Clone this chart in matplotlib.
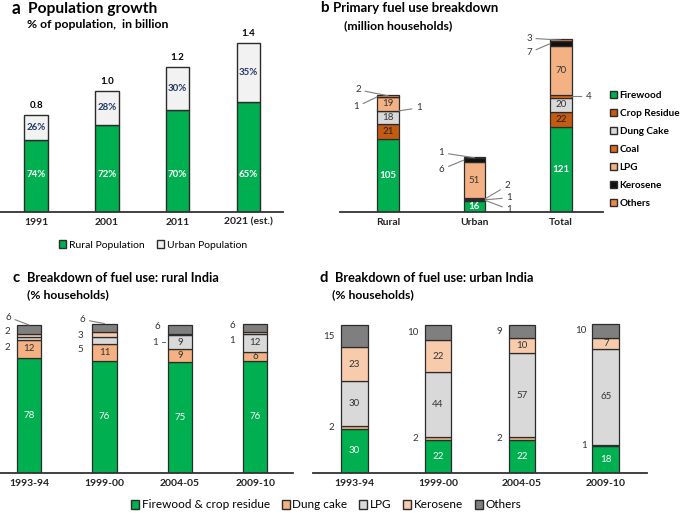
import matplotlib
matplotlib.use("Agg")
import matplotlib.pyplot as plt
import numpy as np
from matplotlib.patches import Patch

plt.rcParams['font.family'] = ['Lato', 'DejaVu Sans']

# ---- data ----
# a: population
years_a = ['1991', '2001', '2011', '2021 (est.)']
pop_total = [0.8, 1.0, 1.2, 1.4]
pop_rural_pct = [74, 72, 70, 65]
pop_urban_pct = [26, 28, 30, 35]

# b: primary fuel (million households)
groups_b = ['Rural', 'Urban', 'Total']
fuels_b = ['Firewood', 'Crop Residue', 'Dung Cake', 'Coal', 'LPG', 'Kerosene', 'Others']
firewood_b = [105, 16, 121]
crop_b = [21, 1, 22]
dung_b = [18, 1, 20]
coal_b = [1, 2, 4]
lpg_b = [19, 51, 70]
kero_b = [1, 6, 7]
others_b = [2, 1, 3]

# c / d: % households
years_cd = ['1993-94', '1999-00', '2004-05', '2009-10']
fuels_cd = ['Firewood & crop residue', 'Dung cake', 'LPG', 'Kerosene', 'Others']
rural_fire = [78, 76, 75, 76]
rural_dung = [12, 11, 9, 6]
rural_lpg = [2, 5, 9, 12]
rural_kero = [2, 3, 1, 1]
rural_oth = [6, 6, 6, 6]
urban_fire = [30, 22, 22, 18]
urban_dung = [2, 2, 2, 1]
urban_lpg = [30, 44, 57, 65]
urban_kero = [23, 22, 10, 7]
urban_oth = [15, 10, 9, 10]

W, H = 685, 513
fig = plt.figure(figsize=(W / 100, H / 100), dpi=100)

EDGE = '#2b2b2b'
GREEN = '#00B050'
cols_b = [GREEN, '#C55A11', '#D9D9D9', '#E2691A', '#F4B183', '#111111', '#F0884A']
cols_cd = [GREEN, '#F4B183', '#D9D9D9', '#F8CBAD', '#7F7F7F']


def px_axes(x0, x1, y_base, y_top):
    return fig.add_axes([x0 / W, 1 - y_base / H, (x1 - x0) / W, (y_base - y_top) / H])


def style(ax, labels):
    for s in ['top', 'right', 'left']:
        ax.spines[s].set_visible(False)
    ax.spines['bottom'].set_color('#333333')
    ax.spines['bottom'].set_linewidth(1.3)
    ax.set_yticks([])
    ax.set_xticks(range(len(labels)))
    ax.set_xticklabels(labels, fontsize=7.5, fontweight='bold', color='#222222')
    ax.tick_params(axis='x', length=0, pad=4)
    ax.patch.set_alpha(0)


def title(x_letter, x_text, y, letter, text, sub, x_sub, y_sub, size=9.5, sub_size=8.8):
    fig.text(x_letter / W, 1 - y / H, letter, fontsize=size + 1.5, fontweight='bold', va='center')
    fig.text(x_text / W, 1 - y / H, text, fontsize=size, fontweight='bold', va='center')
    fig.text(x_sub / W, 1 - y_sub / H, sub, fontsize=sub_size, fontweight='bold', va='center')


# ---------------- panel a ----------------
ax = px_axes(0, 283, 212, 212 - 1.5 * 121)
x = np.arange(len(years_a))
tot = np.array(pop_total)
rur = tot * np.array(pop_rural_pct) / 100
urb = tot - rur
wa = 0.33
ax.bar(x, rur, wa, color=GREEN, edgecolor=EDGE, linewidth=1)
ax.bar(x, urb, wa, bottom=rur, color='#F2F2F2', edgecolor=EDGE, linewidth=1)
ax.set_xlim(-0.51, 3.49)
ax.set_ylim(0, 1.5)
style(ax, years_a)
for i in range(len(x)):
    ax.text(x[i], 0.31, f'{pop_rural_pct[i]}%', ha='center', va='center',
            color='white', fontsize=7, fontweight='bold')
    ax.text(x[i], rur[i] + urb[i] / 2, f'{pop_urban_pct[i]}%', ha='center', va='center',
            color='#1F3864', fontsize=7, fontweight='bold')
    ax.annotate(f'{pop_total[i]:.1f}', (x[i], tot[i]), xytext=(0, 5), textcoords='offset pixels',
                ha='center', va='bottom', fontsize=7, fontweight='bold')
fig.legend(handles=[Patch(facecolor=GREEN, edgecolor=EDGE, label='Rural Population'),
                    Patch(facecolor='#F2F2F2', edgecolor=EDGE, label='Urban Population')],
           loc='center', bbox_to_anchor=(153 / W, 1 - 245 / H), ncol=2, frameon=False,
           fontsize=7.5, handlelength=0.7, handleheight=0.7, handletextpad=0.25,
           columnspacing=1.2)
title(12, 28, 9, 'a', 'Population growth', '% of population,  in billion', 27, 25, size=11.2)

# ---------------- panel b ----------------
ax = px_axes(340, 603, 212, 212 - 260 * 0.70)
xb = np.arange(len(groups_b))
wb = 0.25
series_b = [firewood_b, crop_b, dung_b, coal_b, lpg_b, kero_b, others_b]
bottom = np.zeros(len(xb))
bottoms_b = []
for vals, c, name in zip(series_b, cols_b, fuels_b):
    ax.bar(xb, vals, wb, bottom=bottom, color=c, edgecolor=EDGE, linewidth=0.9, label=name)
    bottoms_b.append(bottom.copy())
    bottom = bottom + np.array(vals)
ax.set_xlim(-0.555, 2.486)
ax.set_ylim(0, 260)
style(ax, groups_b)

# inside labels: (series index, text colour)
for si, tc in [(0, 'white'), (1, '#222222'), (2, '#333333'), (4, '#333333')]:
    for i in range(len(xb)):
        v = series_b[si][i]
        if v >= 10:
            ax.text(xb[i], bottoms_b[si][i] + v / 2, str(v), ha='center', va='center',
                    fontsize=7, color=tc, fontweight='bold' if si == 0 else 'normal')

# small-value callouts: (group, series, side, dx, dy) side -1 left edge, 0 centre, 1 right edge
callouts_b = [(0, 6, 0, -30, 6), (0, 5, -1, -21, -10), (0, 3, 1, 20, 3),
              (1, 6, 0, -33, 5), (1, 5, -1, -22, -9), (1, 3, 1, 22, 13),
              (1, 2, 1, 24, 2), (1, 1, 1, 24, -9),
              (2, 6, 0, -32, 2), (2, 5, -1, -21, -9), (2, 3, 1, 17, 0)]
for g, si, side, dx, dy in callouts_b:
    v = series_b[si][g]
    ax.annotate(str(v), (xb[g] + side * wb / 2, bottoms_b[si][g] + v / 2),
                xytext=(dx, dy), textcoords='offset pixels', ha='center', va='center',
                fontsize=7, color='#333333',
                arrowprops=dict(arrowstyle='-', color='#7f7f7f', lw=0.8, shrinkA=1, shrinkB=0))
handles_b = [Patch(facecolor=c, edgecolor=EDGE, label=n) for c, n in zip(cols_b, fuels_b)]
fig.legend(handles=handles_b, loc='upper left', bbox_to_anchor=(606 / W, 1 - 87 / H),
           frameon=False, handlelength=0.7, handleheight=0.7, borderaxespad=0,
           handletextpad=0.25, labelspacing=0.9, prop={'weight': 'bold', 'size': 7.2})
title(320, 333, 8, 'b', 'Primary fuel use breakdown', '(million households)', 344, 26)

# ---------------- panels c & d ----------------
def stacked_pct(ax, series, w):
    xs = np.arange(len(years_cd))
    bottom = np.zeros(len(xs))
    bots = []
    for vals, c, name in zip(series, cols_cd, fuels_cd):
        ax.bar(xs, vals, w, bottom=bottom, color=c, edgecolor=EDGE, linewidth=0.9, label=name)
        bots.append(bottom.copy())
        bottom = bottom + np.array(vals)
    return xs, bots


# c
ax = px_axes(0, 293, 473, 473 - 105 * 1.48)
series_c = [rural_fire, rural_dung, rural_lpg, rural_kero, rural_oth]
wc = 0.32
xc, bots_c = stacked_pct(ax, series_c, wc)
ax.set_xlim(-0.385, 3.5)
ax.set_ylim(0, 105)
style(ax, years_cd)
for i in range(len(xc)):
    v = series_c[0][i]
    ax.text(xc[i], v / 2, str(v), ha='center', va='center', fontsize=7, color='white')
    for si in (1, 2):
        v = series_c[si][i]
        if v >= 6:
            ax.text(xc[i], bots_c[si][i] + v / 2, str(v), ha='center', va='center',
                    fontsize=7, color='#333333')
# (year, series, dx, dy, leader)
callouts_c = [(0, 4, -21, 8, True), (0, 3, -10, 4, False), (0, 2, -10, -9, False),
              (1, 4, -22, 4, True), (1, 3, -12, -1, False), (1, 2, -12, -9, False),
              (2, 4, -10, 3, False), (3, 4, -11, 2, False), (3, 3, -11, -7, False)]
for g, si, dx, dy, leader in callouts_c:
    v = series_c[si][g]
    if leader:
        xy = (xc[g], bots_c[si][g] + v)
        ax.annotate(str(v), xy, xytext=(dx, dy), textcoords='offset pixels', ha='center',
                    va='center', fontsize=7, color='#333333',
                    arrowprops=dict(arrowstyle='-', color='#7f7f7f', lw=0.8, shrinkA=1, shrinkB=0))
    else:
        ax.annotate(str(v), (xc[g] - wc / 2, bots_c[si][g] + v / 2), xytext=(dx, dy),
                    textcoords='offset pixels', ha='center', va='center', fontsize=7,
                    color='#333333')
# 2004-05 kerosene with short dash
ax.annotate(f'{series_c[3][2]} \u2013', (xc[2] - wc / 2, bots_c[3][2] + series_c[3][2] / 2),
            xytext=(-1, -8), textcoords='offset pixels', ha='right', va='center',
            fontsize=7, color='#333333')
title(12, 27, 278, 'c', 'Breakdown of fuel use: rural India', '(% households)', 27, 295, size=9.2)

# d
ax = px_axes(313, 647, 473, 473 - 105 * 1.48)
series_d = [urban_fire, urban_dung, urban_lpg, urban_kero, urban_oth]
wd = 0.32
xd, bots_d = stacked_pct(ax, series_d, wd)
ax.set_xlim(-0.49, 3.49)
ax.set_ylim(0, 105)
style(ax, years_cd)
for i in range(len(xd)):
    v = series_d[0][i]
    ax.text(xd[i], v / 2, str(v), ha='center', va='center', fontsize=7, color='white')
    for si in (2, 3):
        v = series_d[si][i]
        ax.text(xd[i], bots_d[si][i] + v / 2, str(v), ha='center', va='center',
                fontsize=7, color='#333333')
    for si in (1, 4):
        v = series_d[si][i]
        ax.annotate(str(v), (xd[i] - wd / 2, bots_d[si][i] + v / 2), xytext=(-6, 0),
                    textcoords='offset pixels', ha='right', va='center', fontsize=7,
                    color='#333333')
title(319, 335, 278, 'd', 'Breakdown of fuel use: urban India', '(% households)', 332, 295, size=9.2)

handles_cd = [Patch(facecolor=c, edgecolor=EDGE, label=n) for c, n in zip(cols_cd, fuels_cd)]
fig.legend(handles=handles_cd, loc='center', bbox_to_anchor=(326 / W, 1 - 505 / H), ncol=5,
           frameon=False, fontsize=8.5, handlelength=0.7, handleheight=0.7,
           handletextpad=0.2, columnspacing=1.0)

fig.savefig('out.png', dpi=100)
